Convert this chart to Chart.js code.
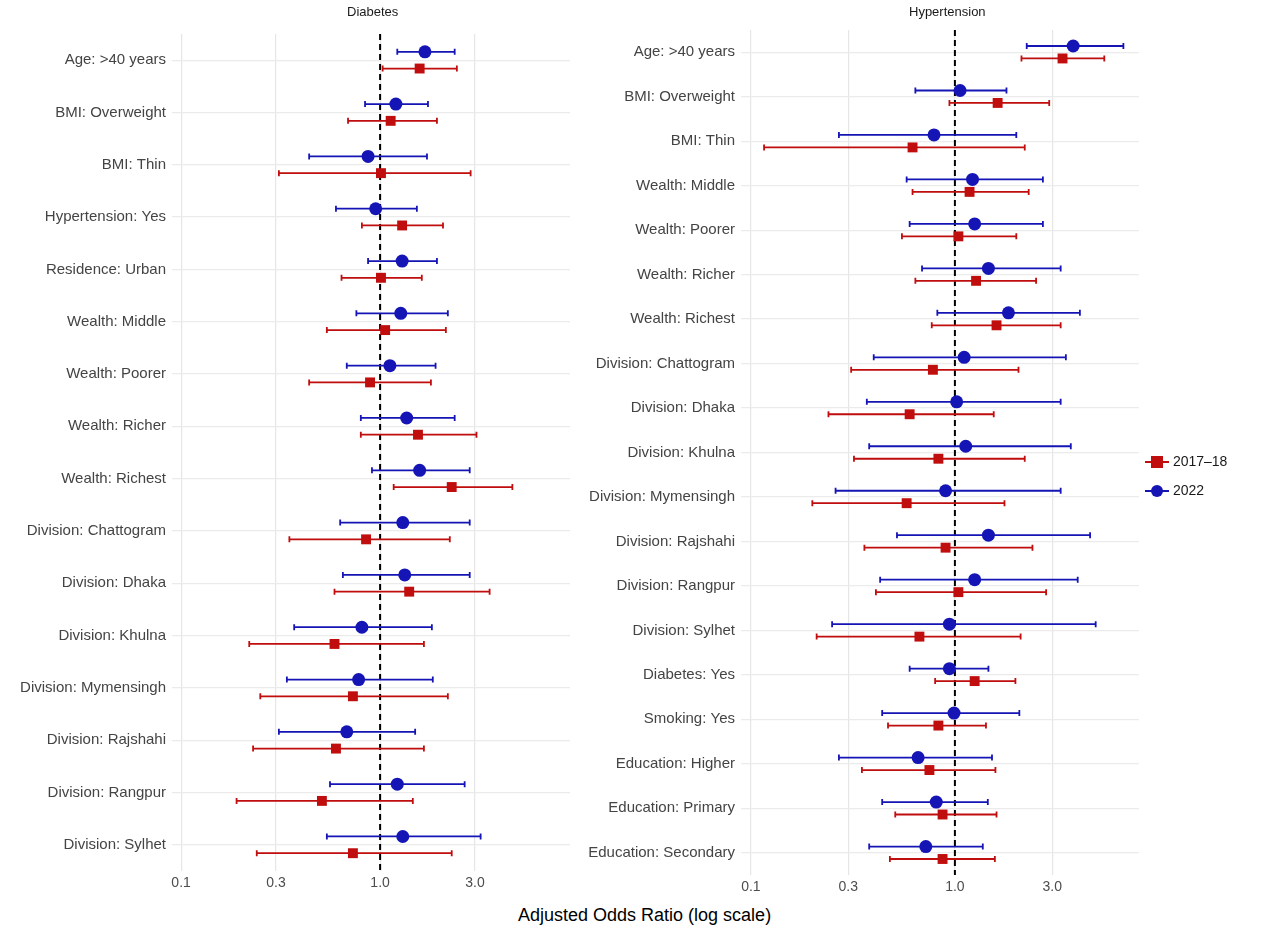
<!DOCTYPE html>
<html><head><meta charset="utf-8">
<script src="https://cdn.jsdelivr.net/npm/chart.js@4"></script>
<style>
body{margin:0;width:1280px;height:938px;background:#fff;font-family:"Liberation Sans",Arial,sans-serif;position:relative;overflow:hidden}
.c{position:absolute;top:0}
.t{position:absolute;font-size:13px;color:#1a1a1a}
</style></head><body>
<div class="c" style="left:2px;width:575px;height:900px"><canvas id="c1"></canvas></div>
<div class="c" style="left:576px;width:570px;height:900px"><canvas id="c2"></canvas></div>
<div class="t" style="left:347px;top:4px">Diabetes</div>
<div class="t" style="left:909px;top:4px">Hypertension</div>
<div class="t" style="left:518px;top:905px;font-size:18px;color:#000">Adjusted Odds Ratio (log scale)</div>
<div class="t" style="left:1145px;top:453px;font-size:14px"><span style="display:inline-block;width:24px;position:relative;height:14px;vertical-align:middle"><span style="position:absolute;left:0;top:6px;width:24px;height:2px;background:#c00d0d"></span><span style="position:absolute;left:6px;top:1px;width:12px;height:12px;background:#c00d0d"></span></span> 2017–18</div>
<div class="t" style="left:1145px;top:482px;font-size:14px"><span style="display:inline-block;width:24px;position:relative;height:14px;vertical-align:middle"><span style="position:absolute;left:0;top:6px;width:24px;height:2px;background:#1515b5"></span><span style="position:absolute;left:6px;top:1px;width:12px;height:12px;border-radius:6px;background:#1515b5"></span></span> 2022</div>
<script>
const diabCats=["Age: >40 years","BMI: Overweight","BMI: Thin","Hypertension: Yes","Residence: Urban","Wealth: Middle","Wealth: Poorer","Wealth: Richer","Wealth: Richest","Division: Chattogram","Division: Dhaka","Division: Khulna","Division: Mymensingh","Division: Rajshahi","Division: Rangpur","Division: Sylhet"];
const diab22=[1.68,1.2,0.87,0.95,1.29,1.27,1.12,1.36,1.58,1.3,1.33,0.81,0.78,0.68,1.22,1.3];
const diab22Lo=[1.22,0.84,0.44,0.6,0.87,0.76,0.68,0.8,0.91,0.63,0.65,0.37,0.34,0.31,0.56,0.54];
const diab22Hi=[2.37,1.74,1.72,1.53,1.93,2.19,1.9,2.37,2.82,2.82,2.82,1.82,1.84,1.5,2.66,3.2];
const diab17=[1.58,1.13,1.01,1.29,1.01,1.06,0.89,1.55,2.29,0.85,1.4,0.59,0.73,0.6,0.51,0.73];
const diab17Lo=[1.03,0.69,0.31,0.81,0.64,0.54,0.44,0.8,1.17,0.35,0.59,0.22,0.25,0.23,0.19,0.24];
const diab17Hi=[2.43,1.93,2.85,2.07,1.62,2.14,1.8,3.05,4.62,2.24,3.55,1.66,2.19,1.66,1.46,2.29];

const hypCats=["Age: >40 years","BMI: Overweight","BMI: Thin","Wealth: Middle","Wealth: Poorer","Wealth: Richer","Wealth: Richest","Division: Chattogram","Division: Dhaka","Division: Khulna","Division: Mymensingh","Division: Rajshahi","Division: Rangpur","Division: Sylhet","Diabetes: Yes","Smoking: Yes","Education: Higher","Education: Primary","Education: Secondary"];
const hyp22=[3.8,1.06,0.79,1.22,1.25,1.46,1.83,1.11,1.02,1.13,0.9,1.46,1.25,0.94,0.94,0.99,0.66,0.81,0.72];
const hyp22Lo=[2.25,0.64,0.27,0.58,0.6,0.69,0.82,0.4,0.37,0.38,0.26,0.52,0.43,0.25,0.6,0.44,0.27,0.44,0.38];
const hyp22Hi=[6.7,1.79,2.0,2.7,2.7,3.3,4.1,3.5,3.3,3.7,3.3,4.6,4.0,4.9,1.46,2.07,1.52,1.45,1.37];
const hyp17=[3.37,1.62,0.62,1.18,1.04,1.27,1.6,0.78,0.6,0.83,0.58,0.9,1.04,0.67,1.25,0.83,0.75,0.87,0.87];
const hyp17Lo=[2.12,0.94,0.116,0.62,0.55,0.64,0.77,0.31,0.24,0.32,0.2,0.36,0.41,0.21,0.8,0.47,0.35,0.51,0.48];
const hyp17Hi=[5.4,2.9,2.2,2.3,2.0,2.5,3.3,2.05,1.55,2.2,1.75,2.4,2.8,2.1,1.98,1.42,1.58,1.6,1.57];
const xTicks=[0.1,0.3,1,3];

const RED="#c00d0d",BLUE="#1515b5";
function ds(vals,lo,hi,off,color,style,label){
  return {label,data:vals.map((v,i)=>({x:v,y:i+off,lo:lo[i],hi:hi[i]})),backgroundColor:color,borderColor:color,pointStyle:style,pointRadius:style==='rect'?7:6.5,borderWidth:0};
}
const errPlugin={id:'err',
  beforeDatasetsDraw(ch){const c=ch.ctx,x=ch.scales.x,y=ch.scales.y,a=ch.chartArea;
    c.save();c.strokeStyle='#000';c.lineWidth=2;c.setLineDash([6,4]);
    const px=x.getPixelForValue(1);c.beginPath();c.moveTo(px,a.top);c.lineTo(px,a.bottom);c.stroke();c.restore();
    ch.data.datasets.forEach(d=>{c.save();c.strokeStyle=d.borderColor;c.lineWidth=1.8;
      d.data.forEach(p=>{const yy=y.getPixelForValue(p.y),x1=x.getPixelForValue(p.lo),x2=x.getPixelForValue(p.hi);
        c.beginPath();c.moveTo(x1,yy);c.lineTo(x2,yy);c.moveTo(x1,yy-3);c.lineTo(x1,yy+3);c.moveTo(x2,yy-3);c.lineTo(x2,yy+3);c.stroke();});
      c.restore();});
  }};
function make(id,cats,d22,d17,xmin,xmax,yw,xh,padTop){
  new Chart(document.getElementById(id),{type:'scatter',
    data:{datasets:[d17,d22]},
    options:{responsive:true,maintainAspectRatio:false,animation:false,
      layout:{padding:{top:padTop,right:5,left:0,bottom:0}},
      plugins:{legend:{display:false},tooltip:{enabled:false}},
      scales:{
        x:{type:'logarithmic',min:xmin,max:xmax,
          afterBuildTicks(s){s.ticks=xTicks.map(v=>({value:v}));},
          afterFit(s){s.height=xh;},
          ticks:{callback:v=>v.toFixed(1),color:'#4d4d4d',font:{size:14,family:'"Liberation Sans",Arial'},padding:4},
          grid:{color:'#e6e6e6',lineWidth:1.2,drawTicks:false},border:{display:false}},
        y:{type:'linear',reverse:true,min:-0.5,max:cats.length-0.5,
          afterBuildTicks(s){s.ticks=cats.map((c,i)=>({value:i}));},
          afterFit(s){s.width=yw;},
          ticks:{callback:(v)=>cats[v],color:'#444',font:{size:15,family:'"Liberation Sans",Arial'},padding:6},
          grid:{color:'#ebebeb',lineWidth:1.2,drawTicks:false},border:{display:false}}
      }},
    plugins:[errPlugin]});
}
make('c1',diabCats,ds(diab22,diab22Lo,diab22Hi,-0.16,BLUE,'circle','2022'),ds(diab17,diab17Lo,diab17Hi,0.16,RED,'rect','2017–18'),0.09,9.0,170,29,34);
make('c2',hypCats,ds(hyp22,hyp22Lo,hyp22Hi,-0.14,BLUE,'circle','2022'),ds(hyp17,hyp17Lo,hyp17Hi,0.14,RED,'rect','2017–18'),0.0894,7.99,165,25,30);
</script>
</body></html>
